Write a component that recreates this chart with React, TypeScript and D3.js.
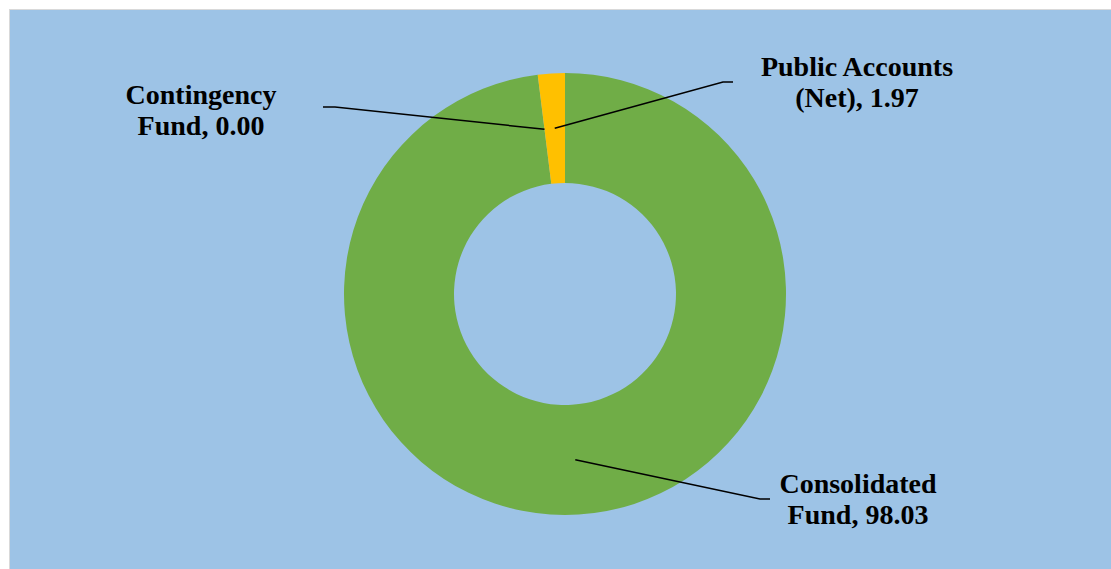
import React from "react";
import * as d3 from "d3";

const categories = ["Consolidated Fund", "Contingency Fund", "Public Accounts (Net)"];
const values = [98.03, 0.0, 1.97];
const colors = ["#70AD47", "#A5A5A5", "#FFC000"];
const labelLines = [
  ["Consolidated", "Fund, 98.03"],
  ["Contingency", "Fund, 0.00"],
  ["Public Accounts", "(Net), 1.97"],
];

const W = 1111;
const H = 569;
const cx = 565;
const cy = 294;
const outerR = 221;
const innerR = 111;

// label layout: text center x, first baseline y, leader elbow end (x,y) and elbow start x
const labelLayout = [
  { tx: 858, ty: 493, ex: 760, ey: 499, sx: 770 },
  { tx: 201, ty: 104, ex: 335, ey: 107, sx: 323 },
  { tx: 857, ty: 76, ex: 723, ey: 82, sx: 733 },
];

export default function App() {
  const pie = d3
    .pie<number>()
    .sort(null)
    .startAngle(0)
    .endAngle(2 * Math.PI)
    .value((d) => d);
  const arcs = pie(values);
  const arc = d3.arc<d3.PieArcDatum<number>>().innerRadius(innerR).outerRadius(outerR);
  const midArc = d3
    .arc<d3.PieArcDatum<number>>()
    .innerRadius((innerR + outerR) / 2)
    .outerRadius((innerR + outerR) / 2);
  const line = d3.line();

  return (
    <svg
      width={W}
      height={H}
      style={{ position: "fixed", left: 0, top: 0, display: "block" }}
    >
      <rect x={0} y={0} width={W} height={H} fill="#ffffff" />
      <rect x={9.5} y={9.5} width={W - 9} height={H - 9} fill="#9DC3E6" stroke="#d9d9d9" strokeWidth={1} />
      <g transform={`translate(${cx},${cy})`}>
        {arcs.map((a, i) =>
          a.endAngle - a.startAngle > 0 ? (
            <path key={categories[i]} d={arc(a) || ""} fill={colors[i]} />
          ) : null
        )}
      </g>
      {arcs.map((a, i) => {
        const [mx, my] = midArc.centroid(a);
        const L = labelLayout[i];
        const pts: [number, number][] = [
          [L.sx, L.ey],
          [L.ex, L.ey],
          [cx + mx, cy + my],
        ];
        return (
          <path
            key={"l" + i}
            d={line(pts) || ""}
            fill="none"
            stroke="#000"
            strokeWidth={1.5}
          />
        );
      })}
      {labelLines.map((lines, i) => {
        const L = labelLayout[i];
        return (
          <text
            key={"t" + i}
            x={L.tx}
            y={L.ty}
            textAnchor="middle"
            fontFamily="'Liberation Serif', 'Times New Roman', serif"
            fontWeight="bold"
            fontSize={28}
            fill="#000"
          >
            {lines.map((s, j) => (
              <tspan key={j} x={L.tx} y={L.ty + j * 31}>
                {s}
              </tspan>
            ))}
          </text>
        );
      })}
    </svg>
  );
}
